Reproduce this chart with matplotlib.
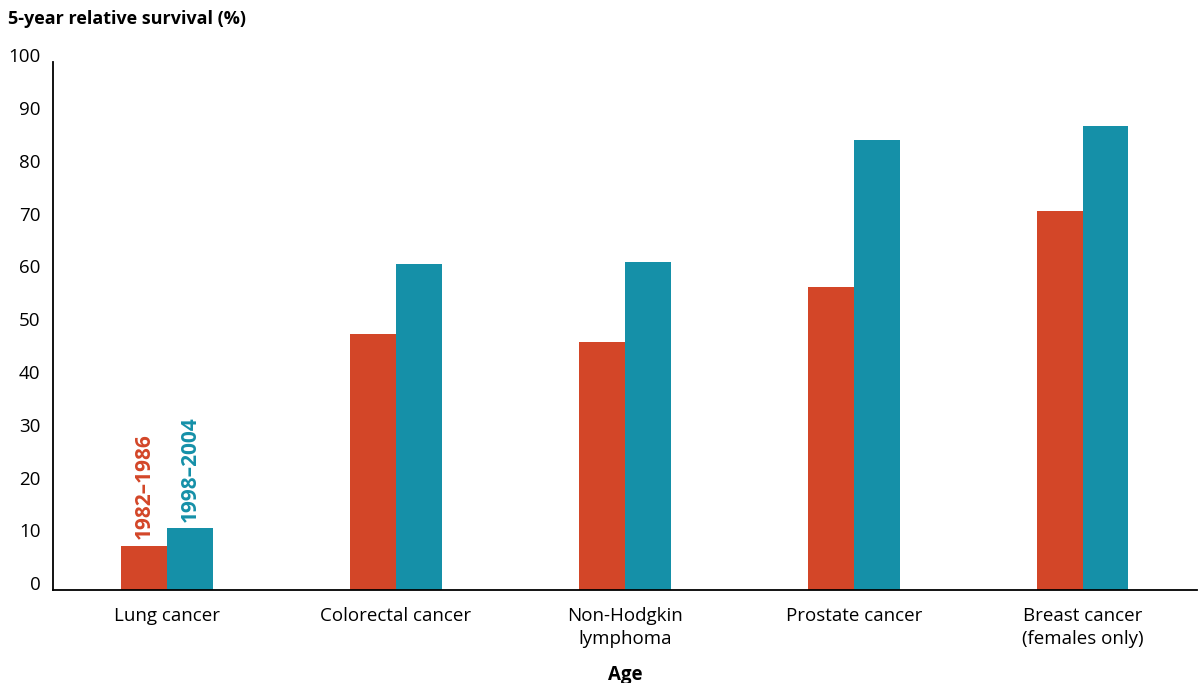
import matplotlib.pyplot as plt
import numpy as np

plt.rcParams['font.family'] = ['Open Sans', 'DejaVu Sans']

# data
cancers = ['Lung cancer', 'Colorectal cancer', 'Non-Hodgkin\nlymphoma',
           'Prostate cancer', 'Breast cancer\n(females only)']
period_1 = '1982–1986'
period_2 = '1998–2004'
surv_1982 = [8.4, 48.6, 46.9, 57.4, 71.8]
surv_1998 = [11.7, 61.7, 62.1, 85.2, 87.9]

red = '#D34628'
teal = '#1590A8'

fig = plt.figure(figsize=(12, 6.83), dpi=100)
ax = fig.add_axes([0.044, 0.136, 0.9535, 0.773])

x = np.arange(len(cancers))
w = 0.2
ax.bar(x - w/2, surv_1982, width=w, color=red)
ax.bar(x + w/2, surv_1998, width=w, color=teal)

# series labels above the lung cancer bars
ax.text(x[0] - w/2, surv_1982[0] + 1.2, period_1, rotation=90, color=red,
        ha='center', va='bottom', fontsize=15, fontweight='bold')
ax.text(x[0] + w/2, surv_1998[0] + 1.2, period_2, rotation=90, color=teal,
        ha='center', va='bottom', fontsize=15, fontweight='bold')

ax.set_xlim(-0.5, 4.5)
ax.set_ylim(0, 100)
ax.set_yticks(range(0, 101, 10))
ax.set_xticks(x)
ax.set_xticklabels(cancers, fontsize=13.5, linespacing=1.4)
ax.tick_params(length=0, labelsize=13.5)
ax.tick_params(axis='y', pad=9)
ax.tick_params(axis='x', pad=12)
for lab in ax.get_yticklabels():
    lab.set_verticalalignment('baseline')

for s in ['top', 'right']:
    ax.spines[s].set_visible(False)
for s in ['left', 'bottom']:
    ax.spines[s].set_linewidth(1.3)

fig.text(0.007, 0.972, '5-year relative survival (%)', fontsize=13,
         fontweight='bold', ha='left', va='center')
fig.text(0.521, 0.012, 'Age', fontsize=13.5, fontweight='bold',
         ha='center', va='center')

fig.savefig('out.png', dpi=100)
